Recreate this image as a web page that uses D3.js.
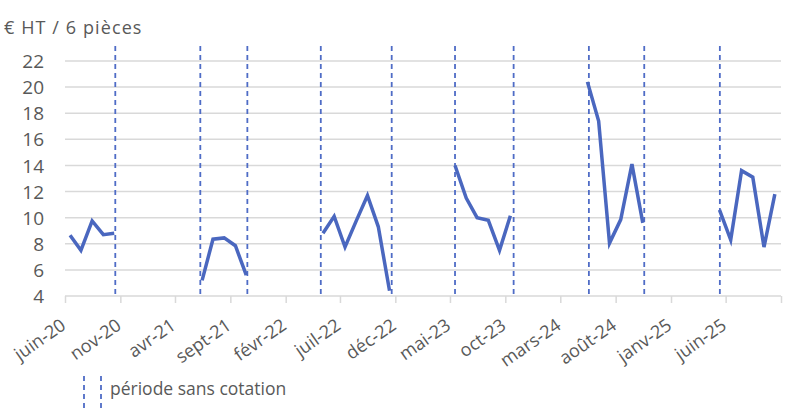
<!DOCTYPE html>
<html><head><meta charset="utf-8">
<script src="https://cdn.jsdelivr.net/npm/d3@7"></script>
<style>
body{margin:0;background:#fff;}
svg{display:block;font-family:"Open Sans",sans-serif;}
</style></head>
<body><svg id="c" width="800" height="411"></svg>
<script>
// ---- data ----
const months = [
  "2020-06","2020-07","2020-08","2020-09","2020-10",
  "2021-06","2021-07","2021-08","2021-09","2021-10",
  "2022-05","2022-06","2022-07","2022-08","2022-09","2022-10","2022-11",
  "2023-05","2023-06","2023-07","2023-08","2023-09","2023-10",
  "2024-05","2024-06","2024-07","2024-08","2024-09","2024-10",
  "2025-05","2025-06","2025-07","2025-08","2025-09","2025-10"
];
const prices = [
  8.65, 7.5, 9.75, 8.7, 8.8,
  5.2, 8.35, 8.45, 7.85, 5.6,
  8.8, 10.1, 7.75, 9.75, 11.7, 9.3, 4.4,
  14.0, 11.5, 10.0, 9.8, 7.5, 10.15,
  20.4, 17.4, 8.05, 9.85, 14.1, 9.6,
  10.6, 8.3, 13.6, 13.1, 7.75, 11.8
];
const noQuoteMarks = ["2020-10-18","2021-06-10","2021-10-18","2022-05-09","2022-11-21",
  "2023-05-15","2023-10-24","2024-05-19","2024-10-19","2025-05-16"];
const tickMonths = ["2020-06","2020-11","2021-04","2021-09","2022-02","2022-07","2022-12",
  "2023-05","2023-10","2024-03","2024-08","2025-01","2025-06","2025-11"];
const tickLabels = ["juin-20","nov-20","avr-21","sept-21","févr-22","juil-22","déc-22",
  "mai-23","oct-23","mars-24","août-24","janv-25","juin-25",""];
const yTicks = [4,6,8,10,12,14,16,18,20,22];
const unitLabel = "€ HT / 6 pièces";
const legendLabel = "période sans cotation";

// ---- setup ----
const svg = d3.select("#c");
const parseM = d3.timeParse("%Y-%m");
const parseD = d3.timeParse("%Y-%m-%d");

const x = d3.scaleTime().domain([parseM("2020-06"), parseM("2025-11")]).range([65, 781]);
const y = d3.scaleLinear().domain([4, 22]).range([296, 61]);

const textCol = "#595959", gridCol = "#d9d9d9", lineCol = "#4a67bf", dashCol = "#4f6cc6";

// grid
svg.append("g").selectAll("line").data(yTicks.filter(v => v > 4)).join("line")
  .attr("x1", x.range()[0]).attr("x2", x.range()[1])
  .attr("y1", d => y(d)).attr("y2", d => y(d))
  .attr("stroke", gridCol).attr("stroke-width", 1.5);

// y axis labels
const yAxis = d3.axisLeft(y).tickValues(yTicks).tickSize(0).tickPadding(0);
const gy = svg.append("g").attr("transform", "translate(44,0)").call(yAxis);
gy.select(".domain").remove();
gy.selectAll("text").attr("fill", textCol).style("font-size", "19px")
  .style("font-family", "'Open Sans',sans-serif").attr("dy", "0.35em");

// x axis
const xAxis = d3.axisBottom(x).tickValues(tickMonths.map(parseM)).tickSize(7).tickFormat("");
const gx = svg.append("g").attr("transform", "translate(0," + y(4) + ")").call(xAxis);
gx.select(".domain").attr("stroke", gridCol).attr("stroke-width", 1.5).attr("d", `M${x.range()[0]},0H${x.range()[1]}`);
gx.selectAll(".tick line").attr("stroke", gridCol).attr("stroke-width", 1.5);

svg.append("g").selectAll("text").data(tickMonths.map((m, i) => ({d: parseM(m), t: tickLabels[i]}))).join("text")
  .attr("transform", d => `translate(${x(d.d) + 2},328) rotate(-35)`)
  .attr("text-anchor", "end").attr("fill", textCol).style("font-size", "18px")
  .text(d => d.t);

// dashed vertical lines
svg.append("g").selectAll("line").data(noQuoteMarks.map(parseD)).join("line")
  .attr("x1", d => x(d)).attr("x2", d => x(d))
  .attr("y1", 46).attr("y2", 296)
  .attr("stroke", dashCol).attr("stroke-width", 1.8).attr("stroke-dasharray", "5,4");

// segments
const pts = months.map((m, i) => ({d: parseM(m), v: prices[i]}));
const segs = [];
pts.forEach((p, i) => {
  if (i === 0 || d3.timeMonth.count(pts[i - 1].d, p.d) > 1) segs.push([]);
  segs[segs.length - 1].push(p);
});
const line = d3.line().x(p => x(d3.timeDay.offset(p.d, 14))).y(p => y(p.v));
svg.append("g").selectAll("path").data(segs).join("path")
  .attr("d", line).attr("fill", "none").attr("stroke", lineCol)
  .attr("stroke-width", 3.5).attr("stroke-linejoin", "miter");

// unit label
svg.append("text").attr("x", 4).attr("y", 34).attr("fill", textCol)
  .style("font-size", "18px").style("letter-spacing", "1.1px").text(unitLabel);

// legend
[84, 101].forEach(lx => svg.append("line").attr("x1", lx).attr("x2", lx).attr("y1", 376).attr("y2", 408)
  .attr("stroke", dashCol).attr("stroke-width", 1.8).attr("stroke-dasharray", "5,4"));
svg.append("text").attr("x", 110).attr("y", 395).attr("fill", textCol)
  .style("font-size", "17.5px").text(legendLabel);
</script></body></html>
